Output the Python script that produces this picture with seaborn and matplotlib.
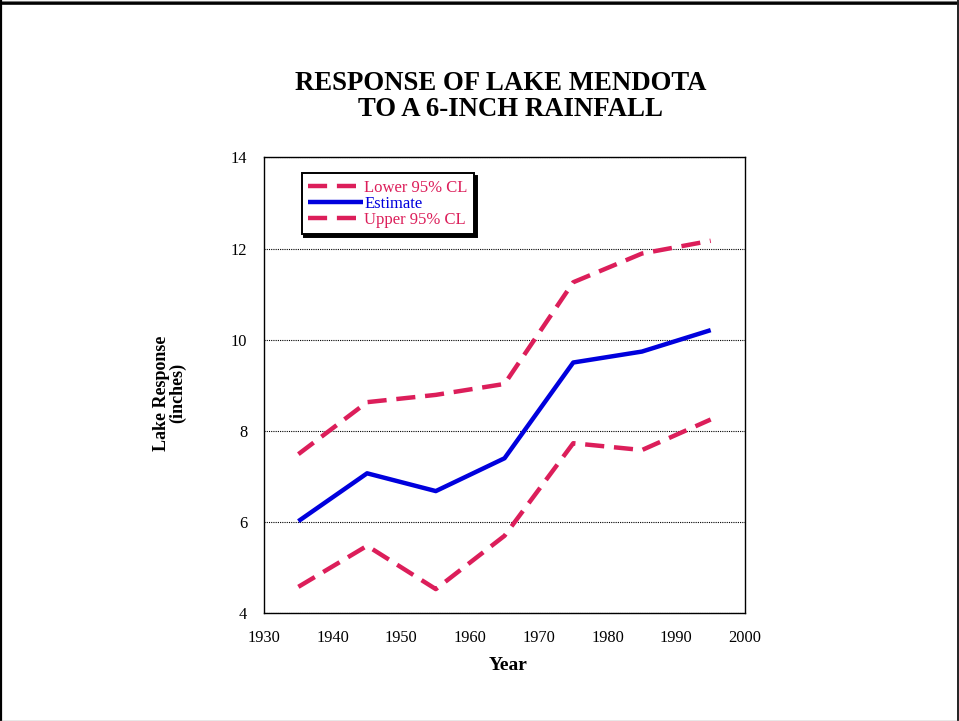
import matplotlib
matplotlib.use("Agg")
import matplotlib.pyplot as plt
from matplotlib.lines import Line2D
import pandas as pd
import seaborn as sns

# Lake response (inches) to a 6-inch rainfall, by decade
years = [1935, 1945, 1955, 1965, 1975, 1985, 1995]
lower_cl = [4.58, 5.48, 4.53, 5.70, 7.73, 7.58, 8.25]
estimate = [6.02, 7.07, 6.68, 7.40, 9.50, 9.74, 10.21]
upper_cl = [7.49, 8.63, 8.79, 9.03, 11.26, 11.89, 12.17]

x_ticks = [1930, 1940, 1950, 1960, 1970, 1980, 1990, 2000]
y_ticks = [4, 6, 8, 10, 12, 14]

PINK = "#DC1E5A"
BLUE = "#0000DD"

sns.set_style("white")
plt.rcParams["font.family"] = ["Liberation Serif", "DejaVu Serif"]
plt.rcParams["text.color"] = "black"

fig = plt.figure(figsize=(9.59, 7.21), dpi=100)
ax = fig.add_axes([0.2753, 0.1494, 0.5016, 0.6324])

df = pd.DataFrame({"Year": years, "Lower": lower_cl, "Estimate": estimate, "Upper": upper_cl})

dash = (4.3, 2.2)
sns.lineplot(data=df, x="Year", y="Lower", ax=ax, color=PINK, lw=3.2,
             label="Lower 95% CL")
sns.lineplot(data=df, x="Year", y="Estimate", ax=ax, color=BLUE, lw=3.2,
             label="Estimate")
sns.lineplot(data=df, x="Year", y="Upper", ax=ax, color=PINK, lw=3.2,
             label="Upper 95% CL")
for ln in (ax.lines[0], ax.lines[2]):
    ln.set_dashes(dash)
    ln.set_dash_capstyle("butt")
ax.lines[1].set_solid_capstyle("butt")

ax.set_xlim(1930, 2000)
ax.set_ylim(4, 14)
ax.set_xticks(x_ticks)
ax.set_yticks(y_ticks)
ax.tick_params(axis="both", length=0, labelsize=11.8, colors="black")
ax.tick_params(axis="x", pad=12)
ax.tick_params(axis="y", pad=12)

ax.yaxis.grid(True, color="black", linestyle=(0, (1, 1)), linewidth=0.8)
ax.xaxis.grid(False)
for s in ax.spines.values():
    s.set_visible(True)
    s.set_color("black")
    s.set_linewidth(1.0)

ax.set_xlabel("")
ax.set_ylabel("")

# Legend with solid black drop shadow
leg = ax.legend(loc="upper left", bbox_to_anchor=(0.078, 0.9656),
                fontsize=12, frameon=True, fancybox=False,
                shadow={"color": "black", "alpha": 1.0},
                handlelength=3.3, handletextpad=0.05, labelspacing=0.0,
                borderpad=0.4, borderaxespad=0.0)
leg.get_frame().set_edgecolor("black")
leg.get_frame().set_linewidth(1.4)
for txt, col in zip(leg.get_texts(), [PINK, BLUE, PINK]):
    txt.set_color(col)
for h in leg.legend_handles:
    h.set_linewidth(3.2)

# Titles and axis labels
W, H = 959, 721
def fx(px):
    return px / W
def fy(py):
    return 1 - py / H

fig.text(fx(501), fy(83), "RESPONSE OF LAKE MENDOTA", ha="center", va="center",
         fontsize=19.3, fontweight="bold", color="black")
fig.text(fx(510), fy(110), "TO A 6-INCH RAINFALL", ha="center", va="center",
         fontsize=19.3, fontweight="bold", color="black")
fig.text(fx(508), fy(666), "Year", ha="center", va="center",
         fontsize=14, fontweight="bold", color="black")
fig.text(fx(161), fy(393), "Lake Response", ha="center", va="center",
         rotation=90, fontsize=13, fontweight="bold", color="black")
fig.text(fx(178), fy(393), "(inches)", ha="center", va="center",
         rotation=90, fontsize=13, fontweight="bold", color="black")

# Page border
fig.add_artist(Line2D([0, 1], [fy(2.5), fy(2.5)], transform=fig.transFigure,
                      color="black", lw=2.6))
fig.add_artist(Line2D([0, 1], [fy(0.5), fy(0.5)], transform=fig.transFigure,
                      color="#777777", lw=0.8))
fig.add_artist(Line2D([fx(1.0), fx(1.0)], [0, 1], transform=fig.transFigure,
                      color="black", lw=1.6))
fig.add_artist(Line2D([fx(957.5), fx(957.5)], [0, 1], transform=fig.transFigure,
                      color="#222222", lw=1.4))
fig.add_artist(Line2D([0, 1], [fy(720.5), fy(720.5)], transform=fig.transFigure,
                      color="#888888", lw=1.0))

fig.savefig("out.png", dpi=100)
